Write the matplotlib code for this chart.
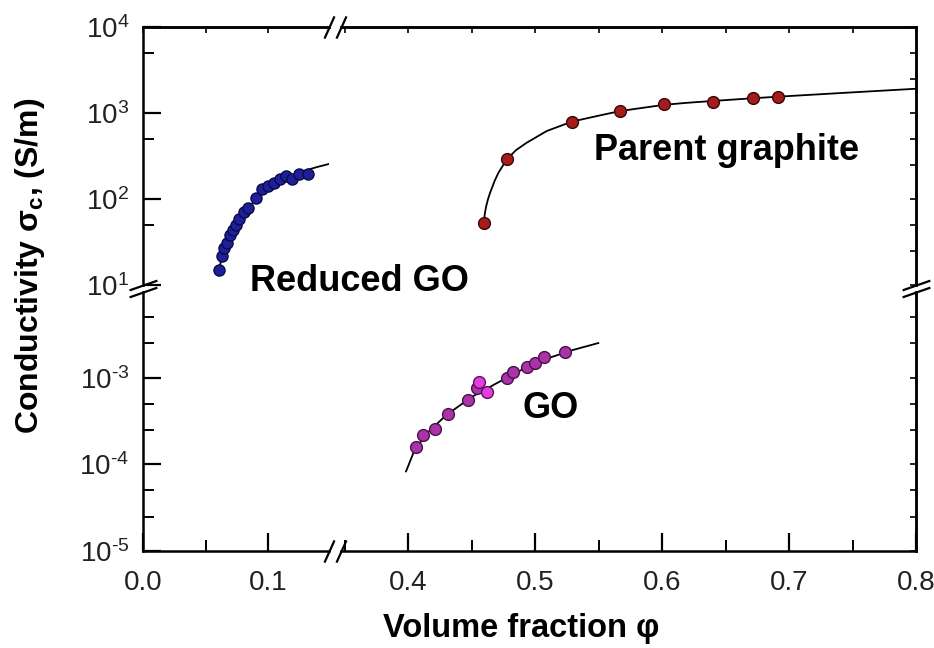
import matplotlib
matplotlib.use('Agg')
import matplotlib.pyplot as plt
import numpy as np
from matplotlib.ticker import (LogLocator, MultipleLocator, FormatStrFormatter,
                               NullFormatter, FuncFormatter)

plt.rcParams['font.family'] = ['Liberation Sans', 'DejaVu Sans']
plt.rcParams['mathtext.fontset'] = 'custom'
plt.rcParams['mathtext.rm'] = 'Liberation Sans'
plt.rcParams['mathtext.it'] = 'Liberation Sans:italic'
plt.rcParams['mathtext.bf'] = 'Liberation Sans:bold'

# reduced GO (measured) and its fit
rgo_phi = [0.0604, 0.0628, 0.0649, 0.0668, 0.0695, 0.0716, 0.0743, 0.0769, 0.0810,
           0.0842, 0.0904, 0.0950, 0.0998, 0.1050, 0.1098, 0.1144, 0.1190, 0.1250, 0.1317]
rgo_sig = [15, 22, 27, 31, 38, 44, 50, 58, 70, 79, 103, 129, 141, 154, 172, 184, 172, 196, 196]
rgo_fit_phi = [0.0600, 0.0630, 0.0670, 0.0720, 0.0780, 0.0850, 0.0920, 0.1000, 0.1100,
               0.1200, 0.1300, 0.1400, 0.1500]
rgo_fit_sig = [13, 21, 31, 43, 58, 80, 105, 133, 163, 192, 215, 237, 258]

# parent graphite
gr_phi = [0.4600, 0.4777, 0.5290, 0.5670, 0.6016, 0.6400, 0.6720, 0.6910]
gr_sig = [53, 288, 794, 1054, 1288, 1359, 1514, 1538]
gr_fit_phi = [0.4597, 0.4605, 0.4615, 0.4630, 0.4646, 0.4680, 0.4711, 0.4777, 0.4850,
              0.4934, 0.5092, 0.5290, 0.5500, 0.5670, 0.6016, 0.6200, 0.6400, 0.6720,
              0.7034, 0.7500, 0.8000]
gr_fit_sig = [55, 68, 82, 100, 118, 160, 201, 288, 370, 451, 617, 794, 930, 1054, 1245,
              1315, 1380, 1486, 1585, 1738, 1914]

# GO
go_phi = [0.4063, 0.4116, 0.4213, 0.4317, 0.4475, 0.4541, 0.4777, 0.4829, 0.4935,
          0.5000, 0.5071, 0.5236]
go_sig = [1.61e-4, 2.19e-4, 2.55e-4, 3.8e-4, 5.6e-4, 7.6e-4, 9.9e-4, 1.18e-3, 1.35e-3,
          1.48e-3, 1.76e-3, 2.01e-3]
go_bright_phi = [0.4561, 0.4624]
go_bright_sig = [9.06e-4, 6.95e-4]
go_fit_phi = [0.3984, 0.405, 0.415, 0.430, 0.450, 0.470, 0.490, 0.510, 0.530, 0.5498]
go_fit_sig = [8.3e-5, 1.45e-4, 2.3e-4, 3.7e-4, 6.0e-4, 8.7e-4, 1.25e-3, 1.68e-3, 2.1e-3, 2.52e-3]

W, H = 934, 648
fig = plt.figure(figsize=(W / 100, H / 100), dpi=100)


def box(x0, y0, x1, y1):
    return [x0 / W, 1 - y1 / H, (x1 - x0) / W, (y1 - y0) / H]


def pow_label(v, pos):
    e = int(round(np.log10(v)))
    if e < 0:
        return r'$\mathdefault{10^{\text{-}%d}}$' % (-e)
    return r'$\mathdefault{10^{%d}}$' % e


ax_ul = fig.add_axes(box(143, 27, 329, 285))
ax_ur = fig.add_axes(box(341, 27, 916, 285))
ax_ll = fig.add_axes(box(143, 292, 329, 551))
ax_lr = fig.add_axes(box(341, 292, 916, 551))

for ax in (ax_ul, ax_ll):
    ax.set_xlim(0, 0.1488)
for ax in (ax_ur, ax_lr):
    ax.set_xlim(0.3472, 0.8)
for ax in (ax_ul, ax_ur):
    ax.set_yscale('log')
    ax.set_ylim(10, 1e4)
for ax in (ax_ll, ax_lr):
    ax.set_yscale('log')
    ax.set_ylim(1e-5, 9.8e-3)

sw = 1.8
tc = '#222222'
for ax in (ax_ul, ax_ur, ax_ll, ax_lr):
    for s in ax.spines.values():
        s.set_linewidth(sw)
    ax.tick_params(which='major', direction='in', length=13, width=1.6, labelsize=20,
                   pad=10, labelcolor=tc, top=False, right=False)
    ax.tick_params(which='minor', direction='in', length=8, width=1.4,
                   top=False, right=False)
    ax.xaxis.set_major_locator(MultipleLocator(0.1))
    ax.xaxis.set_minor_locator(MultipleLocator(0.05))
    ax.xaxis.set_major_formatter(FormatStrFormatter('%.1f'))

ax_ul.spines[['right', 'bottom']].set_visible(False)
ax_ur.spines[['left', 'bottom']].set_visible(False)
ax_ll.spines[['right', 'top']].set_visible(False)
ax_lr.spines[['left', 'top']].set_visible(False)

for ax in (ax_ul, ax_ur):
    ax.tick_params(which='both', bottom=False, labelbottom=False)
    ax.yaxis.set_major_locator(LogLocator(base=10, numticks=10))
    ax.yaxis.set_minor_locator(LogLocator(base=10, subs=(5,), numticks=10))
for ax in (ax_ll, ax_lr):
    ax.yaxis.set_major_locator(LogLocator(base=10, numticks=10))
    ax.yaxis.set_minor_locator(LogLocator(base=10, subs=(2.5, 5), numticks=10))
for ax in (ax_ul, ax_ll):
    ax.yaxis.set_major_formatter(FuncFormatter(pow_label))
    ax.yaxis.set_minor_formatter(NullFormatter())
for ax in (ax_ur, ax_lr):
    ax.tick_params(which='both', left=False, labelleft=False)
ax_ll.tick_params(axis='x', pad=14)
ax_lr.tick_params(axis='x', pad=14)

# small ticks on the top and right frame
for ax in (ax_ul, ax_ur):
    sec = ax.secondary_xaxis('top')
    sec.xaxis.set_major_locator(MultipleLocator(0.05))
    sec.xaxis.set_major_formatter(NullFormatter())
    sec.tick_params(direction='in', length=4, width=1.2)
    sec.spines['top'].set_linewidth(sw)
for ax in (ax_ur, ax_lr):
    sec = ax.secondary_yaxis('right')
    sec.yaxis.set_major_locator(LogLocator(base=10, subs=(1, 2.5, 5), numticks=20))
    sec.yaxis.set_minor_locator(LogLocator(base=10, subs=(), numticks=20))
    sec.yaxis.set_major_formatter(NullFormatter())
    sec.tick_params(which='both', direction='in', length=4, width=1.2)
    sec.spines['right'].set_linewidth(sw)

# curves and points
ax_ul.plot(rgo_fit_phi, rgo_fit_sig, color='black', lw=1.3, zorder=2)
ax_ul.plot(rgo_phi, rgo_sig, 'o', ms=8, mfc='#1f1f99', mec='#0a0a4a', mew=1.0, zorder=3)
ax_ur.plot(gr_fit_phi, gr_fit_sig, color='black', lw=1.3, zorder=2)
ax_ur.plot(gr_phi, gr_sig, 'o', ms=8.5, mfc='#a51c1c', mec='#3a0505', mew=1.0, zorder=3)
ax_lr.plot(go_fit_phi, go_fit_sig, color='black', lw=1.3, zorder=2)
ax_lr.plot(go_phi, go_sig, 'o', ms=8.5, mfc='#a834a8', mec='#4a104a', mew=1.0, zorder=3)
ax_lr.plot(go_bright_phi, go_bright_sig, 'o', ms=8.5, mfc='#e23ee2', mec='#5a105a',
           mew=1.0, zorder=3)

# break marks
steep = [(-0.45, -1), (0.45, 1)]
flat = [(-1, -0.35), (1, 0.35)]
kw = dict(color='black', mew=1.6, clip_on=False, linestyle='none', zorder=5)
ax_ul.plot([1], [1], transform=ax_ul.transAxes, marker=steep, ms=16, **kw)
ax_ur.plot([0], [1], transform=ax_ur.transAxes, marker=steep, ms=16, **kw)
ax_ll.plot([1], [0], transform=ax_ll.transAxes, marker=steep, ms=16, **kw)
ax_lr.plot([0], [0], transform=ax_lr.transAxes, marker=steep, ms=16, **kw)
ax_ul.plot([0], [0], transform=ax_ul.transAxes, marker=flat, ms=20, **kw)
ax_ll.plot([0], [1], transform=ax_ll.transAxes, marker=flat, ms=20, **kw)
ax_ur.plot([1], [0], transform=ax_ur.transAxes, marker=flat, ms=20, **kw)
ax_lr.plot([1], [1], transform=ax_lr.transAxes, marker=flat, ms=20, **kw)

# annotations
fig.text(727 / W, 1 - 150 / H, 'Parent graphite', fontsize=26, fontweight='bold',
         ha='center', va='center')
fig.text(359 / W, 1 - 282 / H, 'Reduced GO', fontsize=26, fontweight='bold',
         ha='center', va='center')
fig.text(551 / W, 1 - 408 / H, 'GO', fontsize=26, fontweight='bold',
         ha='center', va='center')

fig.text(521 / W, 1 - 628 / H, 'Volume fraction φ', fontsize=23.5, fontweight='bold',
         ha='center', va='center')
fig.text(30 / W, 1 - 266 / H, r'Conductivity σ$_\mathbf{c}$, (S/m)', fontsize=23,
         fontweight='bold', rotation=90, ha='center', va='center')

fig.savefig('out.png', dpi=100)
